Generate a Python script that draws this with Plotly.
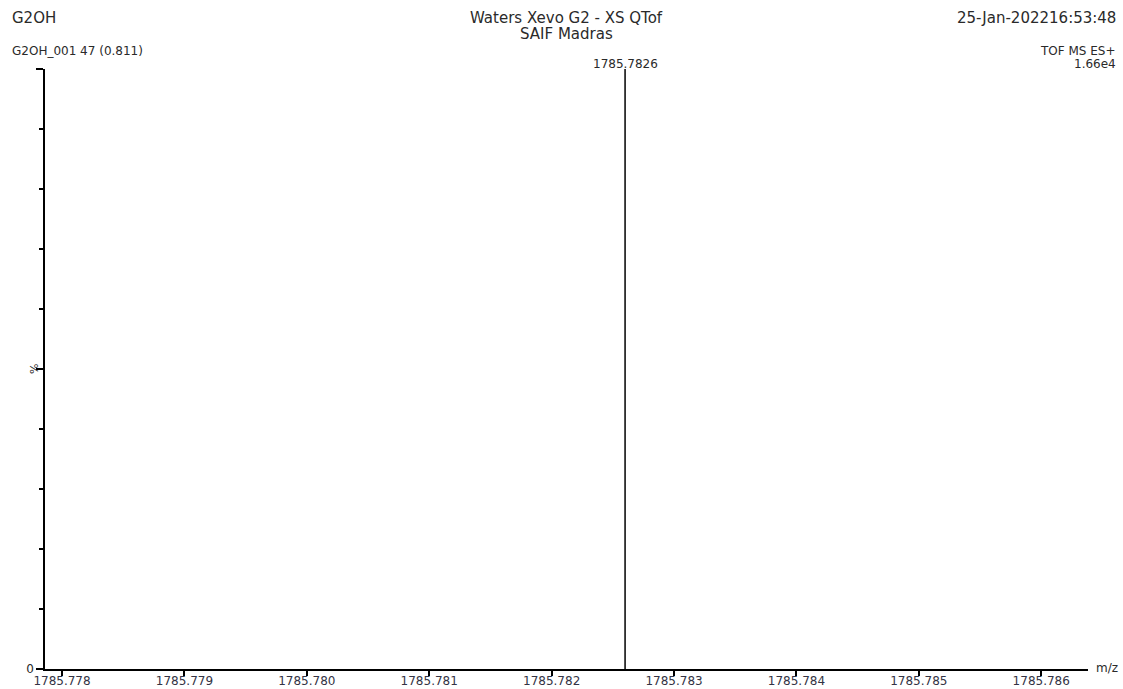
import plotly.graph_objects as go

# Spectrum data: centroided peak(s), relative intensity in %
peak_mz = [1785.7826]
peak_rel = [100.0]
peak_labels = ["1785.7826"]

# Axis definition
x_ticks = [1785.778, 1785.779, 1785.780, 1785.781, 1785.782,
           1785.783, 1785.784, 1785.785, 1785.786]
x_tick_text = ["1785.778", "1785.779", "1785.780", "1785.781", "1785.782",
               "1785.783", "1785.784", "1785.785", "1785.786"]
x_range = [1785.777861, 1785.786382]

FONT = "DejaVu Sans, Verdana, sans-serif"
INK = "#2a2a2a"

# Stick spectrum: one vertical segment per peak
xs, ys = [], []
for mz, rel in zip(peak_mz, peak_rel):
    xs += [mz, mz, None]
    ys += [0, rel, None]

fig = go.Figure()
fig.add_trace(go.Scatter(x=xs, y=ys, mode="lines",
                         line=dict(color="black", width=1.5),
                         hoverinfo="skip", showlegend=False))

# Peak labels
for mz, rel, lab in zip(peak_mz, peak_rel, peak_labels):
    fig.add_annotation(x=mz, y=rel, text=lab, showarrow=False,
                       xanchor="center", yanchor="bottom", yshift=-4,
                       font=dict(family=FONT, size=12, color=INK))

fig.update_layout(
    width=1123, height=689,
    margin=dict(l=45, r=35, t=69, b=20, autoexpand=False),
    paper_bgcolor="white", plot_bgcolor="white",
    font=dict(family=FONT, color=INK),
    showlegend=False,
    xaxis=dict(range=x_range, tickvals=x_ticks, ticktext=x_tick_text,
               automargin=False,
               showgrid=False, zeroline=False,
               showline=True, linecolor="black", linewidth=1.5,
               ticks="outside", ticklen=5, tickwidth=1.5, tickcolor="black",
               ticklabelstandoff=-5,
               tickfont=dict(family=FONT, size=12, color="#333344"),
               fixedrange=True),
    yaxis=dict(range=[0, 100], tickvals=[0, 50, 100], ticktext=["0", "", ""],
               automargin=False,
               showgrid=False, zeroline=False,
               showline=True, linecolor="black", linewidth=1.5,
               ticks="outside", ticklen=7, tickwidth=1.5, tickcolor="black",
               tickfont=dict(family=FONT, size=12, color=INK),
               minor=dict(dtick=10, tick0=0, ticks="outside", ticklen=4,
                          tickwidth=1.5, tickcolor="black"),
               fixedrange=True),
)

# Header and axis captions (paper coordinates in pixels)
W, H = 1123, 689
def px_note(text, x, y, anchor, size, **kw):
    fig.add_annotation(text=text, xref="paper", yref="paper",
                       x=(x - 45) / (W - 45 - 35), y=1 - (y - 69) / (H - 69 - 20),
                       xanchor=anchor, yanchor="middle", showarrow=False,
                       font=dict(family=FONT, size=size, color=INK), **kw)

px_note("G2OH", 10, 18, "left", 15)
px_note("Waters Xevo G2 - XS QTof", 566, 18, "center", 15)
px_note("SAIF Madras", 566, 34, "center", 15)
px_note("25-Jan-202216:53:48", 1118, 18, "right", 15)
px_note("G2OH_001 47 (0.811)", 10, 51, "left", 12)
px_note("TOF MS ES+", 1118, 51, "right", 12)
px_note("1.66e4", 1118, 64, "right", 12)
px_note("m/z", 1094, 668, "left", 12)
px_note("%", 34, 369, "center", 11, textangle=-90)

fig.write_html("out.html")
